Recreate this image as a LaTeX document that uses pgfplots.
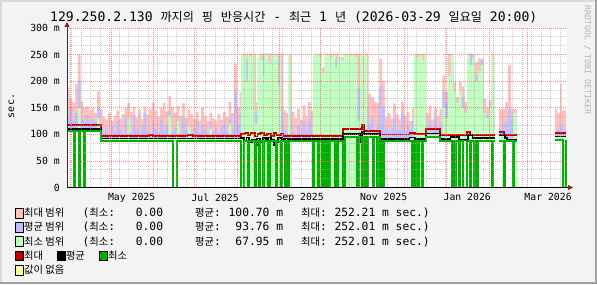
\documentclass[border=0pt]{standalone}
\usepackage{fontspec}
\setmainfont{DejaVu Sans Mono}
\newfontfamily\kr{Noto Sans CJK KR}
\usepackage{pgfplots}
\usepackage{pgfplotstable}
\pgfplotsset{compat=1.18}
\usetikzlibrary{arrows.meta}
\definecolor{bg}{HTML}{F3F3F3}
\definecolor{pinkr}{HTML}{FFC0C0}
\definecolor{bluer}{HTML}{C0C0FF}
\definecolor{greenr}{HTML}{C0FFC0}
\definecolor{redl}{HTML}{C00000}
\definecolor{greenl}{HTML}{00B000}
\definecolor{yel}{HTML}{FFFFA0}
\definecolor{arrowred}{HTML}{902020}
\definecolor{mgridc}{HTML}{FF6060}
\definecolor{gridc}{HTML}{A8A8A8}
\definecolor{wm}{HTML}{B4B4B4}
\definecolor{edgedark}{HTML}{A0A0A0}
\definecolor{edgelight}{HTML}{D8D8D8}
\newcommand\K[1]{{\kr\fontsize{12.1}{14}\selectfont #1}}
\newcommand\KL[1]{{\kr\fontsize{10.3}{12}\selectfont #1}}

% pink: top of the "max" range
\pgfplotstableread{
x y
0 189
2 167
4 160
6 195
8 249
10 161
12 150
14 152
16 145
18 150
20 140
22 181
24 148
26 133
28 128
30 140
32 125
34 135
36 145
38 130
40 138
42 150
44 159
46 142
48 151
50 132
52 146
54 128
56 152
58 137
60 148
62 160
64 145
66 133
68 150
70 159
72 143
74 172
76 150
78 140
80 154
82 135
84 158
86 131
88 147
90 138
92 129
94 142
96 126
98 150
100 135
102 125
104 141
106 130
108 126
110 138
112 127
114 142
116 133
118 161
120 140
122 233
124 150
126 179
128 252
138 160
140 252
158 145
160 140
162 250
164 142
166 130
168 148
170 127
172 155
174 135
176 160
178 145
180 252
186 226
188 252
200 245
202 252
220 176
222 170
224 161
226 158
228 242
230 200
232 133
234 140
236 130
238 158
240 138
242 128
244 161
246 135
248 142
250 125
252 150
254 252
262 140
264 155
266 128
268 150
270 135
272 148
274 211
276 180
278 252
282 198
284 170
286 200
288 190
290 161
292 252
296 250
298 236
300 243
304 167
306 150
308 164
310 252
312 129
312.4 0
315.4 148
320 161
322 230
324 148
326 147
328.5 0
356.2 148
358 140
360 195
361 145
364.3 0
365 0
}\pinkhi

% blue: top of the "avg" range
\pgfplotstableread{
x y
0 130
2 150
4 125
6 140
8 200
10 130
12 125
14 135
16 122
18 128
20 125
22 150
24 120
26 105
28 112
30 100
32 118
34 104
36 125
38 108
40 100
42 130
44 112
46 104
48 135
50 110
52 102
54 115
56 140
58 106
60 100
62 122
64 110
66 103
68 128
70 108
72 118
74 145
76 104
78 112
80 120
82 100
84 132
86 107
88 115
90 102
92 110
94 125
96 103
98 118
100 108
102 100
104 122
106 105
108 112
110 100
112 115
114 120
116 104
118 130
120 110
122 180
124 118
126 140
128 150
130 240
132 150
137 140
139 150
143 252
146 150
154 250
155 150
158 110
160 105
162 150
164 105
166 100
168 118
170 102
172 125
174 108
176 130
178 104
180 150
196 240
197 150
212 186
214 150
220 120
222 130
224 108
226 115
228 190
230 150
232 110
234 104
236 112
238 130
240 106
242 110
244 140
246 104
248 118
250 108
252 125
254 150
262 115
264 125
266 110
268 130
270 112
272 120
274 180
276 160
278 180
280 230
282 160
284 140
286 150
288 170
290 120
292 200
294 252
296 200
298 210
300 180
302 240
304 120
306 135
308 115
310 200
312 110
312.4 0
315.4 110
318 120
320 125
322 148
324 130
326 110
328 105
328.5 0
356.2 105
358 110
360 120
362 108
364.3 0
365 0
}\bluehi

% green: top of the "min" range
\pgfplotstableread{
x y
0 110
8 150
10 110
22 130
24 110
24.8 92
44 128
46 92
74 135
76 92
80 125
82 92
88 115
90 92
104 110
106 92
118 120
120 92
127 250
129 248
131 200
132 250
133 245
135 250
137 120
139 250
141 240
143 210
144 250
145 252
147 235
149 250
153 245
154 190
155 250
156.2 92
161.3 245
163 92
179.6 250
182 252
184 248
186 215
188 250
192 245
194 250
196 225
197 240
198 252
200 240
202 250
206 248
208 250
210 245
212 125
214 250
219 101
228.5 92
253 250
255 245
257 252
259 240
261 250
262.2 101.5
272 92
274 150
276 130
278 210
280 250
282 180
284 160
286 185
288 150
290 140
292 250
294 230
296 245
298 200
300 220
302 230
304 140
306 130
308 150
310 245
312 110
312.4 0
315.4 99
319.7 92
325.6 140
328.5 0
356.2 96
364.3 0
365 0
}\greenhi

% bottom of the "min" range (white below it)
\pgfplotstableread{
x y
0 107
24.8 88
127 0
156.2 88
161.3 0
163 88
179.6 0
215.4 95.5
228.5 88
253 0
260 88
262.2 95.5
272 88
312.4 0
315.4 88
325.6 0
328.5 0
356.2 88.7
362.1 0
365 0
}\whitelo

\pgfplotstableread{
x y
0 117
24.8 96.5
60 98
63 96.5
88 98.5
92 96.5
110 97.5
116 96.5
127 101
130 103
132 98
134 102
137 96
139 100
141 103
144 99
146 101
149 97
151 102
153 99
156 100
158 97
201.5 109.4
205 111
207 109.4
210 110.5
212 109.4
215.4 117.5
216.9 107
228.5 99.5
250 103
254 100
262.2 109.4
272 99
292 105
294.2 99
312.4 99
312.5 nan
315.4 103.7
319 99
328.5 99
328.6 nan
356.2 102.5
364.3 102.5
}\redline

\pgfplotstableread{
x y
0 110
24.8 92
127 93
129 88
131 94
133 85
135 90
137 79
138.5 92
141 86
143 93
145 88
147 94
149 90
151 80
152.5 85
154 93
157 91
159 92
161 91.5
201.5 101
214 86
215.4 104
216.9 100.6
228.5 91.5
250 94
254 91.5
262.2 101.5
272 91
280 95
286 90
293 98
296 93
312.4 93
312.5 nan
315.4 98
319.7 93
321 88.7
326 90
328.5 90
328.6 nan
356.2 96
364.3 96
}\blackline

\pgfplotstableread{
x y
0 107
5.1 0
5.8 107
8.8 0
9.5 107
12.4 0
13.1 107
24.8 88
77.4 0
80.3 88
127 0
129.2 88
132.1 0
132.8 88
137.0 0
137.7 88
140.2 0
140.9 88
143.1 0
143.8 88
146.7 0
148.2 88
152.6 0
153.3 88
156.2 0
156.9 88
159.1 0
159.8 88
161.3 0
162 88
179.6 0
180.3 88
183.2 0
183.9 88
186.2 0
186.9 88
188.3 0
189 88
190.5 0
192 88
195.7 0
196.4 88
197.1 0
197.8 88
201.5 0
202.9 95.5
211.7 0
213.1 95.5
215.4 0
216.9 95.5
218.3 0
219.8 95.5
223.4 0
224.1 95.5
226.3 0
227 95.5
228.5 0
229.2 88
230.7 0
231.4 88
251.9 0
252.6 88
254 0
254.7 88
256.2 0
256.9 88
259.1 0
259.8 88
262.2 95.5
272 88
281 0
281.7 88
283.2 0
283.9 88
286.2 0
286.9 88
289.1 0
292 88
294.2 0
294.9 88
297.1 0
297.8 88
299.3 0
300 88
310.2 0
310.9 88
312.4 88
312.5 nan
315.4 88
319 0
319.7 88
325.6 0
326.3 88
328.5 88
328.6 nan
356.2 88.7
362.1 0
364.3 88.7
}\greenline

\begin{document}
\begin{tikzpicture}[x=1pt,y=1pt]
\useasboundingbox (0,0) rectangle (597,284);
\fill[bg] (0,0) rectangle (597,284);
\fill[edgelight] (0,281.5) rectangle (597,284);
\fill[edgelight] (0,0) rectangle (2,284);
\fill[edgedark] (0,0) rectangle (597,2.5);
\fill[edgedark] (594.5,0) rectangle (597,284);

\begin{axis}[
  at={(67pt,96.5pt)}, anchor=south west,
  scale only axis, width=500pt, height=159.5pt,
  xmin=0, xmax=365, ymin=0, ymax=300,
  axis lines=left,
  x axis line style={draw=black, line width=1pt, shorten >=-6pt, -{Triangle[length=5pt,width=5pt,color=arrowred,fill=arrowred]}},
  y axis line style={draw=black!80, line width=1pt, shorten >=-6pt, -{Triangle[length=5pt,width=5pt,color=arrowred,fill=arrowred]}},
  axis background/.style={fill=white},
  axis on top,
  major tick length=0pt, minor tick length=0pt,
  xtick={47.17,108.17,170.17,231.17,292.17,351.17},
  xticklabels={May 2025,Jul 2025,Sep 2025,Nov 2025,Jan 2026,Mar 2026},
  extra x ticks={2.17,32.17,63.17,93.17,124.17,155.17,185.17,216.17,246.17,277.17,308.17,336.17},
  extra x tick labels={},
  extra x tick style={grid=major},
  minor xtick={3.17,10.17,...,360.17},
  xminorgrids=true,
  ytick={0,50,100,150,200,250,300},
  yticklabels={0,50 m,100 m,150 m,200 m,250 m,300 m},
  minor y tick num=2,
  ymajorgrids=true, yminorgrids=true,
  major grid style={draw=mgridc, draw opacity=0.75, line width=0.8pt, dash pattern=on 1pt off 1pt},
  minor grid style={draw=gridc, draw opacity=0.6, line width=0.8pt, dash pattern=on 1pt off 1pt},
  yticklabel style={font=\fontsize{9.8}{11}\selectfont, anchor=east, inner sep=0pt, xshift=-7pt},
  xticklabel style={font=\fontsize{9.8}{11}\selectfont, anchor=north, inner sep=0pt, yshift=-6pt},
]
\addplot[fill=pinkr, draw=none, const plot] table {\pinkhi} \closedcycle;
\addplot[fill=bluer, draw=none, const plot] table {\bluehi} \closedcycle;
\addplot[fill=greenr, draw=none, const plot] table {\greenhi} \closedcycle;
\addplot[fill=white, draw=none, const plot] table {\whitelo} \closedcycle;
\addplot[redl, line width=1.8pt, const plot, unbounded coords=jump] table {\redline};
\addplot[black, line width=1.8pt, const plot, unbounded coords=jump] table {\blackline};
\addplot[greenl, line width=1.8pt, const plot, unbounded coords=jump] table {\greenline};
\end{axis}

% title
\node[anchor=base west, inner sep=0pt, font=\fontsize{13.1}{15}\selectfont] at (50,262.8) {129.250.2.130};
\node[anchor=base west, inner sep=0pt, font=\fontsize{13.1}{15}\selectfont] at (160.4,262.8)
  {\K{까지의} \K{핑} \K{반응시간} - \K{최근} 1 \K{년} (2026-03-29 \K{일요일} 20:00)};
% y unit label
\node[rotate=90, inner sep=0pt, font=\fontsize{10}{12}\selectfont] at (11.5,178) {sec.};
% watermark
\node[rotate=-90, inner sep=0pt, text=wm, font=\fontsize{8.3}{10}\selectfont] at (587.5,224) {RRDTOOL / TOBI OETIKER};

% legend
\begin{scope}[every node/.style={inner sep=0pt, font=\fontsize{11.3}{13}\selectfont}]
\def\boxat#1#2#3{\filldraw[fill=#3, draw=black, line width=0.8pt] (#1,#2-1.3) rectangle (#1+7.8,#2+8.2);}
% row 1
\boxat{15.7}{67.3}{pinkr}
\node[anchor=base west] at (24,67.3) {\KL{최대 범위}};
\node[anchor=base west] at (82.3,67.3) {(\KL{최소}:};
\node[anchor=base east] at (163.3,67.3) {0.00};
\node[anchor=base west] at (195,67.3) {\KL{평균}:};
\node[anchor=base east] at (283.3,67.3) {100.70 m};
\node[anchor=base west] at (301,67.3) {\KL{최대}:};
\node[anchor=base west] at (334.3,67.3) {252.21 m sec.)};
% row 2
\boxat{15.7}{53}{bluer}
\node[anchor=base west] at (24,53) {\KL{평균 범위}};
\node[anchor=base west] at (82.3,53) {(\KL{최소}:};
\node[anchor=base east] at (163.3,53) {0.00};
\node[anchor=base west] at (195,53) {\KL{평균}:};
\node[anchor=base east] at (283.3,53) {93.76 m};
\node[anchor=base west] at (301,53) {\KL{최대}:};
\node[anchor=base west] at (334.3,53) {252.01 m sec.)};
% row 3
\boxat{15.7}{39}{greenr}
\node[anchor=base west] at (24,39) {\KL{최소 범위}};
\node[anchor=base west] at (82.3,39) {(\KL{최소}:};
\node[anchor=base east] at (163.3,39) {0.00};
\node[anchor=base west] at (195,39) {\KL{평균}:};
\node[anchor=base east] at (283.3,39) {67.95 m};
\node[anchor=base west] at (301,39) {\KL{최대}:};
\node[anchor=base west] at (334.3,39) {252.01 m sec.)};
% row 4
\boxat{15.7}{24.7}{redl}
\node[anchor=base west] at (24,24.7) {\KL{최대}};
\boxat{57.5}{24.7}{black}
\node[anchor=base west] at (65.8,24.7) {\KL{평균}};
\boxat{99.7}{24.7}{greenl}
\node[anchor=base west] at (108,24.7) {\KL{최소}};
% row 5
\boxat{15.7}{10.4}{yel}
\node[anchor=base west] at (24,10.4) {\KL{값이 없음}};
\end{scope}
\end{tikzpicture}
\end{document}
